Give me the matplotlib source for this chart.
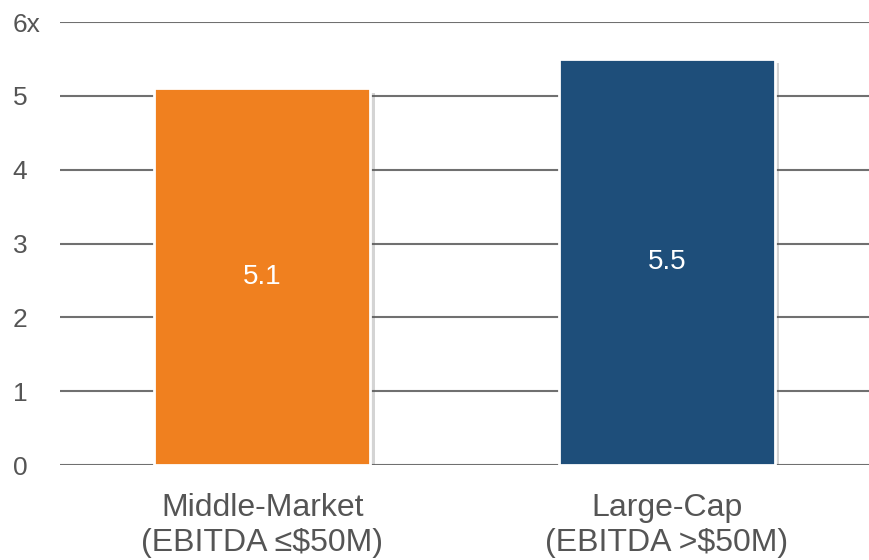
import matplotlib.pyplot as plt
import matplotlib.patheffects as pe

# Dati
categorie = ["Middle-Market\n(EBITDA \u2264$50M)", "Large-Cap\n(EBITDA >$50M)"]
valori = [5.1, 5.5]
colori = ["#F0801F", "#1E4E7A"]
tick_y = [0, 1, 2, 3, 4, 5, 6]
etichette_y = ["0", "1", "2", "3", "4", "5", "6x"]

plt.rcParams["font.family"] = ["Liberation Sans", "DejaVu Sans"]

fig = plt.figure(figsize=(8.69, 5.6), dpi=100)
ax = fig.add_axes([0.069, 0.1696, 0.931, 0.7911])

x = list(range(len(valori)))
barre = ax.bar(x, valori, width=0.535, color=colori, edgecolor="white",
               linewidth=2, zorder=3)
for b in barre:
    b.set_path_effects([pe.SimplePatchShadow(offset=(3, -3), alpha=0.25, shadow_rgbFace="#555555"),
                        pe.Normal()])

# Etichette nelle barre
for xi, v in zip(x, valori):
    ax.text(xi, v / 2, f"{v:.1f}", ha="center", va="center",
            color="white", fontsize=20, zorder=4)

ax.set_xlim(-0.5, 1.5)
ax.set_ylim(0, 6)
ax.set_yticks(tick_y)
ax.set_yticklabels(etichette_y, fontsize=19, color="#555555")
for t in ax.get_yticklabels():
    t.set_horizontalalignment("left")
ax.tick_params(axis="y", length=0, pad=34)
ax.set_xticks(x)
ax.set_xticklabels(categorie, fontsize=23, color="#555555", linespacing=1.22)
ax.tick_params(axis="x", length=0, pad=20)

ax.grid(axis="y", color="#707070", linewidth=1.5, zorder=0)
ax.set_axisbelow(True)
for s in ax.spines.values():
    s.set_visible(False)

fig.savefig("out.png", dpi=100)
